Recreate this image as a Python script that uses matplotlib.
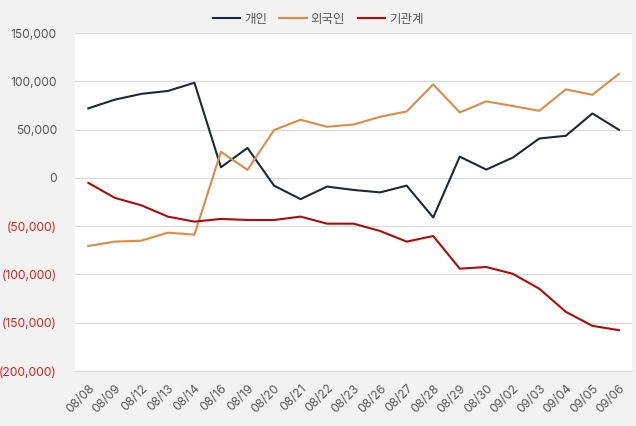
import matplotlib.pyplot as plt
from matplotlib.ticker import FuncFormatter

plt.rcParams['font.family'] = ['Inter', 'Noto Sans CJK KR', 'DejaVu Sans']

dates = ['08/08', '08/09', '08/12', '08/13', '08/14', '08/16', '08/19', '08/20',
         '08/21', '08/22', '08/23', '08/26', '08/27', '08/28', '08/29', '08/30',
         '09/02', '09/03', '09/04', '09/05', '09/06']
individual = [72000, 81000, 87000, 90000, 98500, 11000, 31000, -8000,
              -22000, -9000, -12500, -15000, -8000, -41000, 22000, 8600,
              21000, 40800, 43600, 66700, 49800]
foreign = [-70500, -66000, -65000, -56700, -58800, 27000, 8300, 49500,
           60200, 52900, 55300, 63300, 68800, 96800, 67800, 79200,
           74400, 69500, 91600, 86100, 107600]
institution = [-5200, -20700, -28400, -40100, -45300, -42500, -43600, -43600,
               -40100, -47400, -47400, -55000, -66000, -60200, -94000, -92300,
               -99300, -114800, -138700, -153200, -157700]

fig = plt.figure(figsize=(6.36, 4.26), dpi=100)
fig.patch.set_facecolor('#f2f2f2')
ax = fig.add_axes([0.118, 0.129, 0.876, 0.7935])
ax.set_facecolor('white')

x = range(len(dates))
ax.plot(x, individual, color='#1f2935', lw=1.5, label='개인')
ax.plot(x, foreign, color='#e08a45', lw=1.5, label='외국인')
ax.plot(x, institution, color='#b00a0a', lw=1.5, label='기관계')

ax.set_xlim(-0.5, len(dates) - 0.5)
ax.set_ylim(-200000, 150000)
ax.set_yticks(range(-200000, 150001, 50000))

def fmt(v, pos):
    if v < 0:
        return '({:,.0f})'.format(-v)
    return '{:,.0f}'.format(v)

ax.yaxis.set_major_formatter(FuncFormatter(fmt))
ax.grid(axis='y', color='#d9d9d9', lw=0.9)
ax.set_axisbelow(True)
for s in ['left', 'right', 'top']:
    ax.spines[s].set_visible(False)
ax.spines['bottom'].set_color('#d9d9d9')

ax.set_xticks(list(x))
ax.set_xticklabels(dates, rotation=45, ha='right', rotation_mode='anchor')
ax.tick_params(axis='both', length=0, labelsize=8.7, colors='#595959')
ax.tick_params(axis='x', pad=8)
ax.tick_params(axis='y', pad=13)
for lbl, v in zip(ax.get_yticklabels(), ax.get_yticks()):
    if v < 0:
        lbl.set_color('#e02020')

fig.legend(loc='lower center', bbox_to_anchor=(0.5, 0.925), ncol=3, frameon=False,
           fontsize=9, handlelength=2.2, columnspacing=1.0, handletextpad=0.3,
           labelcolor='#595959', borderaxespad=0.1)

fig.savefig('out.png', dpi=100, facecolor=fig.get_facecolor())
